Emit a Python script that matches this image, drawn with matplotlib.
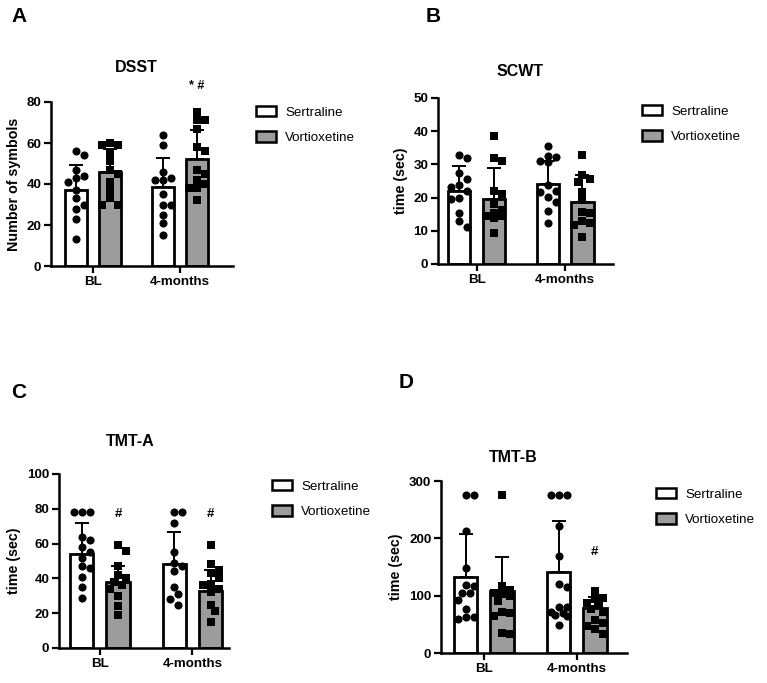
import matplotlib
matplotlib.use('Agg')
import matplotlib.pyplot as plt
import numpy as np
from matplotlib.patches import Patch

plt.rcParams['font.family'] = ['Liberation Sans', 'DejaVu Sans']

groups = ['BL', '4-months']
series = ['Sertraline', 'Vortioxetine']

# ---- Panel A: DSST ----
dsst_mean_sert = [37.0, 38.5]
dsst_mean_vort = [46.0, 52.0]
dsst_sd_sert = [12.3, 14.2]
dsst_sd_vort = [10.9, 14.2]
dsst_pts_sert_bl = [56, 54, 47, 44, 43, 41, 37, 33, 30, 28, 23, 13]
dsst_pts_vort_bl = [60, 59, 59, 55, 51, 47, 45, 41, 37, 33, 30, 30]
dsst_pts_sert_4m = [64, 59, 46, 43, 42, 42, 35, 30, 30, 25, 21, 15]
dsst_pts_vort_4m = [75, 71, 71, 67, 58, 56, 47, 45, 42, 40, 38, 38, 32]

# ---- Panel B: SCWT ----
scwt_mean_sert = [22.0, 24.0]
scwt_mean_vort = [19.7, 18.8]
scwt_sd_sert = [7.4, 6.9]
scwt_sd_vort = [9.2, 7.9]
scwt_pts_sert_bl = [32.8, 31.9, 27.4, 25.7, 23.8, 23.3, 22.0, 19.8, 19.6, 15.5, 13.0, 11.0]
scwt_pts_vort_bl = [38.7, 31.9, 30.9, 22.0, 21.0, 18.0, 16.3, 15.3, 14.6, 14.5, 13.8, 9.3]
scwt_pts_sert_4m = [35.6, 32.6, 32.1, 31.1, 30.7, 23.8, 22.0, 21.8, 20.3, 18.8, 16.0, 12.5]
scwt_pts_vort_4m = [32.7, 26.9, 25.6, 24.8, 21.8, 19.3, 15.8, 15.5, 13.0, 12.5, 11.8, 8.2]

# ---- Panel C: TMT-A ----
tmta_mean_sert = [54.1, 48.4]
tmta_mean_vort = [38.0, 32.9]
tmta_sd_sert = [17.6, 18.5]
tmta_sd_vort = [9.2, 12.0]
tmta_pts_sert_bl = [78, 78, 78, 64, 62, 58, 55, 52, 47, 46, 41, 35, 29]
tmta_pts_vort_bl = [59, 56, 47, 42, 40, 38, 36, 34, 30, 24, 19]
tmta_pts_sert_4m = [78, 78, 72, 55, 49, 47, 44, 35, 31, 28, 25]
tmta_pts_vort_4m = [59, 48, 45, 43, 40, 37, 36, 34, 32, 25, 21, 15]

# ---- Panel D: TMT-B ----
tmtb_mean_sert = [132.0, 142.0]
tmtb_mean_vort = [109.0, 78.5]
tmtb_sd_sert = [75.6, 88.6]
tmtb_sd_vort = [58.0, 18.5]
tmtb_pts_sert_bl = [275, 275, 213, 148, 118, 116, 105, 104, 92, 77, 62, 62, 59]
tmtb_pts_vort_bl = [275, 116, 110, 105, 103, 100, 90, 72, 70, 64, 35, 33]
tmtb_pts_sert_4m = [275, 275, 275, 221, 170, 121, 115, 81, 80, 71, 70, 67, 65, 48]
tmtb_pts_vort_4m = [108, 96, 94, 87, 83, 76, 71, 58, 52, 47, 42, 34]

GRAY = '#9c9c9c'
W, H = 767, 683

fig = plt.figure(figsize=(W / 100, H / 100), dpi=100)


def px_axes(left, right, top, bottom):
    return fig.add_axes([left / W, 1 - bottom / H, (right - left) / W, (bottom - top) / H])


def swarm(ax, xc, vals, halfw, d):
    """simple deterministic beeswarm in display space"""
    tr = ax.transData
    placed = []
    xs = [0.0] * len(vals)
    x0 = tr.transform((xc, 0))[0]
    x1 = tr.transform((xc + halfw, 0))[0]
    maxoff = x1 - x0
    cands = [0.0]
    k = 1
    while k * d * 0.5 <= maxoff + 1e-6:
        cands += [k * d * 0.5, -k * d * 0.5]
        k += 1
    for i in range(len(vals)):
        py = tr.transform((xc, vals[i]))[1]
        best, bestov = None, None
        for c in cands:
            ov = 0.0
            for (qx, qy) in placed:
                dist = np.hypot(c - qx, py - qy)
                if dist < d:
                    ov += d - dist
            if ov == 0:
                best = c
                break
            if bestov is None or ov < bestov:
                best, bestov = c, ov
        placed.append((best, py))
        xs[i] = xc + best / (x1 - x0) * halfw
    return xs


def panel(ax, title, title_px, ylabel, ymax, yticks, ms, mv, ss, sv, pts, xlim, halfw=0.125, off=0.195):
    ax.set_xlim(*xlim)
    ax.set_ylim(0, ymax)
    x = np.arange(len(groups))
    ax.bar(x - off, ms, width=2 * halfw, color='white', edgecolor='black', linewidth=2.0, zorder=2)
    ax.bar(x + off, mv, width=2 * halfw, color=GRAY, edgecolor='black', linewidth=2.0, zorder=2)
    ax.errorbar(x - off, ms, yerr=[np.zeros(2), ss], fmt='none', ecolor='black', elinewidth=1.4,
                capsize=5, capthick=1.4, zorder=3)
    ax.errorbar(x + off, mv, yerr=[np.zeros(2), sv], fmt='none', ecolor='black', elinewidth=1.4,
                capsize=5, capthick=1.4, zorder=3)
    fig.canvas.draw()
    for (gi, si, vals) in pts:
        xc = gi + (off if si == 1 else -off)
        xs = swarm(ax, xc, vals, halfw * 0.85, 8.0)
        ax.scatter(xs, vals, s=34, marker='o' if si == 0 else 's', color='black', zorder=4,
                   linewidths=0, clip_on=False)
    for s in ['top', 'right']:
        ax.spines[s].set_visible(False)
    for s in ['left', 'bottom']:
        ax.spines[s].set_linewidth(1.8)
    ax.set_yticks(yticks)
    ax.set_xticks(x)
    ax.set_xticklabels(groups)
    ax.tick_params(axis='both', width=1.6, length=5, labelsize=9.6, pad=2)
    for lb in ax.get_xticklabels() + ax.get_yticklabels():
        lb.set_fontweight('bold')
    ax.set_ylabel(ylabel, fontsize=10.3, fontweight='bold', labelpad=4)
    fig.text(title_px[0] / W, 1 - title_px[1] / H, title, fontsize=11.5, fontweight='bold',
             ha='center', va='center')


def legend_at(x, y):
    handles = [Patch(facecolor='white', edgecolor='black', linewidth=1.8),
               Patch(facecolor=GRAY, edgecolor='black', linewidth=1.8)]
    fig.legend(handles, series, loc='upper left', bbox_to_anchor=(x / W, 1 - y / H),
               frameon=False, fontsize=9.6, handlelength=1.5, handleheight=0.8,
               handletextpad=0.7, labelspacing=0.95, borderpad=0, borderaxespad=0)


# Panel A
axA = px_axes(51, 233, 102, 266)
panel(axA, 'DSST', (136, 67), 'Number of symbols', 80, [0, 20, 40, 60, 80],
      dsst_mean_sert, dsst_mean_vort, dsst_sd_sert, dsst_sd_vort,
      [(0, 0, dsst_pts_sert_bl), (0, 1, dsst_pts_vort_bl), (1, 0, dsst_pts_sert_4m), (1, 1, dsst_pts_vort_4m)],
      (-0.483, 1.61))
axA.text(1 + 0.195, 88, '* #', ha='center', va='center', fontsize=9, fontweight='bold', clip_on=False)
legend_at(256, 106)

# Panel B
axB = px_axes(438, 613, 98, 264)
panel(axB, 'SCWT', (520, 72), 'time (sec)', 50, [0, 10, 20, 30, 40, 50],
      scwt_mean_sert, scwt_mean_vort, scwt_sd_sert, scwt_sd_vort,
      [(0, 0, scwt_pts_sert_bl), (0, 1, scwt_pts_vort_bl), (1, 0, scwt_pts_sert_4m), (1, 1, scwt_pts_vort_4m)],
      (-0.435, 1.54))
legend_at(642, 105)

# Panel C
axC = px_axes(59, 229, 474, 648)
panel(axC, 'TMT-A', (130, 441), 'time (sec)', 100, [0, 20, 40, 60, 80, 100],
      tmta_mean_sert, tmta_mean_vort, tmta_sd_sert, tmta_sd_vort,
      [(0, 0, tmta_pts_sert_bl), (0, 1, tmta_pts_vort_bl), (1, 0, tmta_pts_sert_4m), (1, 1, tmta_pts_vort_4m)],
      (-0.443, 1.395))
for g in range(2):
    axC.text(g + 0.195, 77, '#', ha='center', va='center', fontsize=9.5, fontweight='bold')
legend_at(272, 480)

# Panel D
axD = px_axes(441, 627, 481, 653)
panel(axD, 'TMT-B', (513, 457), 'time (sec)', 300, [0, 100, 200, 300],
      tmtb_mean_sert, tmtb_mean_vort, tmtb_sd_sert, tmtb_sd_vort,
      [(0, 0, tmtb_pts_sert_bl), (0, 1, tmtb_pts_vort_bl), (1, 0, tmtb_pts_sert_4m), (1, 1, tmtb_pts_vort_4m)],
      (-0.462, 1.54))
axD.text(1 + 0.195, 176, '#', ha='center', va='center', fontsize=9.5, fontweight='bold')
legend_at(656, 488)

# panel letters
for lt, (lx, ly) in zip('ABCD', [(11, 17), (426, 17), (11, 392), (399, 383)]):
    fig.text(lx / W, 1 - ly / H, lt, fontsize=15, fontweight='bold', ha='left', va='center')

fig.savefig('out.png', dpi=100)
